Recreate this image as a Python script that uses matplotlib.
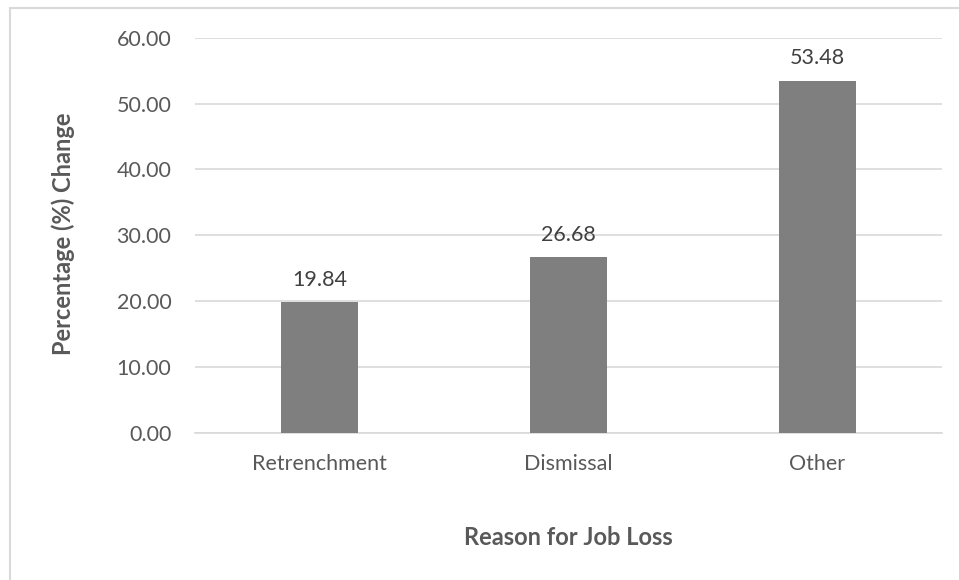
import matplotlib.pyplot as plt
from matplotlib.patches import Rectangle

reasons = ['Retrenchment', 'Dismissal', 'Other']
change = [19.84, 26.68, 53.48]
yticks = [0, 10, 20, 30, 40, 50, 60]

plt.rcParams['font.family'] = ['Lato', 'DejaVu Sans']

fig = plt.figure(figsize=(9.59, 5.80), dpi=100)
ax = fig.add_axes([0.2033, 0.2534, 0.7790, 0.6816])

x = range(len(reasons))
bars = ax.bar(x, change, width=0.31, color='#7f7f7f', zorder=3)
for b, v in zip(bars, change):
    ax.annotate('{:.2f}'.format(v), (b.get_x() + b.get_width() / 2, v),
                xytext=(0, 9), textcoords='offset points',
                ha='center', va='bottom', fontsize=15.5, color='#404040')

ax.set_xlim(-0.5, 2.5)
ax.set_ylim(0, 60)
ax.set_yticks(yticks)
ax.set_yticklabels(['{:.2f}'.format(t) for t in yticks])
ax.set_xticks(list(x))
ax.set_xticklabels(reasons)
ax.tick_params(axis='both', length=0, labelsize=15.5, labelcolor='#595959')
ax.tick_params(axis='y', pad=17)
ax.tick_params(axis='x', pad=15)
ax.grid(axis='y', color='#d9d9d9', linewidth=1.2, zorder=0)
for s in ['top', 'right', 'left']:
    ax.spines[s].set_visible(False)
ax.spines['bottom'].set_color('#d9d9d9')
ax.spines['bottom'].set_linewidth(1.2)

fig.text(0.066, 0.597, 'Percentage (%) Change', rotation=90, ha='center', va='center',
         fontsize=17, fontweight='bold', color='#595959')
fig.text(0.593, 0.074, 'Reason for Job Loss', ha='center', va='center',
         fontsize=17, fontweight='bold', color='#595959')

# outer chart frame (cropped on right and bottom)
fig.patches.append(Rectangle((10 / 959, -0.1), 1.2, 1.1 - 8 / 580, transform=fig.transFigure,
                             fill=False, edgecolor='#d9d9d9', linewidth=1.5))

fig.savefig('out.png', dpi=100)
